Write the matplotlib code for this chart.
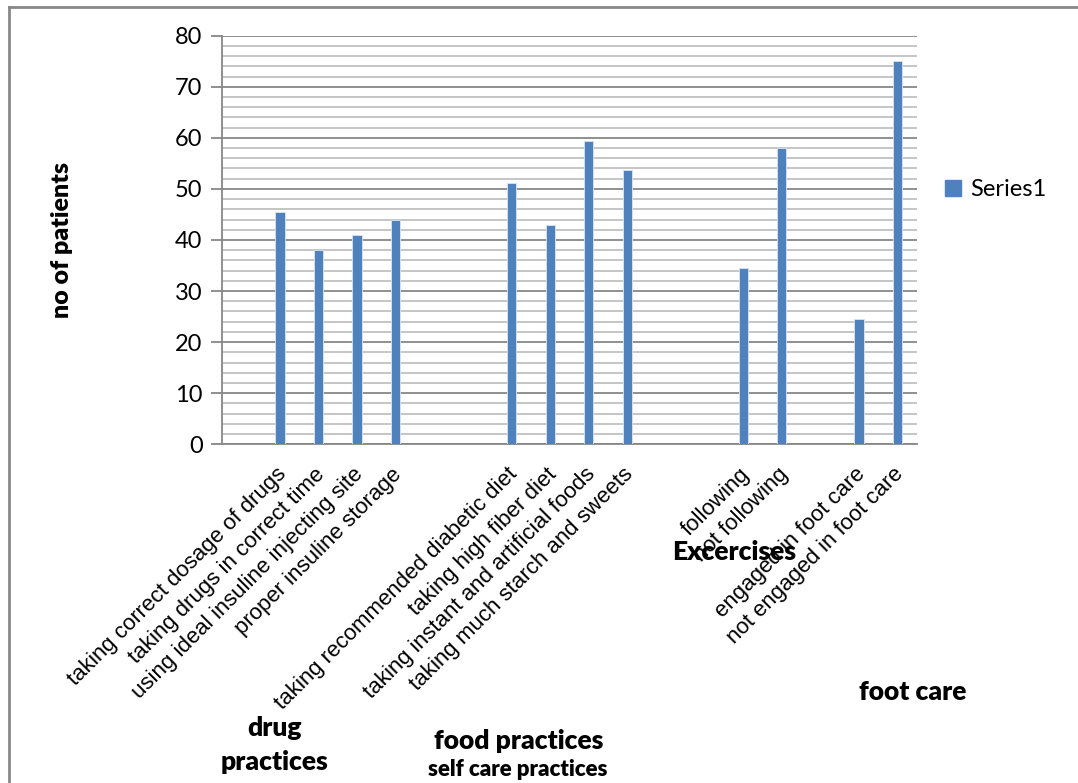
import matplotlib
matplotlib.use("Agg")
import matplotlib.pyplot as plt
import matplotlib.transforms as mtransforms
from matplotlib.lines import Line2D
from matplotlib.patches import Patch
import numpy as np

# Self-care practice items (blank slots separate the groups on the axis)
categories = [
    "",
    "taking correct dosage of drugs",
    "taking drugs in correct time",
    "using ideal insuline injecting site",
    "proper insuline storage",
    "",
    "",
    "taking recommended diabetic diet",
    "taking high fiber diet",
    "taking instant and artificial foods",
    "taking much starch and sweets",
    "",
    "",
    "following",
    "not following",
    "",
    "engaged in foot care",
    "not engaged in foot care",
]
patients = [
    None, 45.5, 38.0, 41.0, 44.0,
    None, None, 51.2, 43.0, 59.3, 53.8,
    None, None, 34.5, 58.1,
    None, 24.5, 75.1,
]
group_labels = ["drug\npractices", "food practices", "Excercises", "foot care"]
axis_title = "self care practices"
y_label = "no of patients"
series_name = "Series1"

BAR_COLOR = "#4F81BD"
LABEL_FONT = ["Liberation Sans", "DejaVu Sans"]
TITLE_FONT = ["Lato", "DejaVu Sans"]

fig = plt.figure(figsize=(10.78, 7.83), dpi=100)
ax = fig.add_axes([0.2059, 0.4326, 0.6447, 0.5218])

x = np.arange(len(categories))
bar_x = [i for i, v in zip(x, patients) if v is not None]
bar_h = [v for v in patients if v is not None]
ax.bar(bar_x, bar_h, width=0.24, color=BAR_COLOR, edgecolor="#dbe5f1",
       linewidth=0.6, zorder=3)

ax.set_xlim(-0.5, len(categories) - 0.5)
ax.set_ylim(0, 80)
ax.set_yticks(np.arange(0, 81, 10))
ax.set_yticks(np.arange(0, 81, 2), minor=True)
ax.grid(axis="y", which="minor", color="#b5b5b5", linewidth=1.1, zorder=0)
ax.grid(axis="y", which="major", color="#878787", linewidth=1.3, zorder=1)
ax.grid(axis="x", visible=False)

for side in ("top", "right"):
    ax.spines[side].set_visible(False)
for side in ("left", "bottom"):
    ax.spines[side].set_color("#878787")
    ax.spines[side].set_linewidth(1.3)

ax.tick_params(axis="y", which="major", length=8, width=1.3, color="#878787",
               labelsize=17, pad=6)
ax.tick_params(axis="y", which="minor", length=0)
for t in ax.get_yticklabels():
    t.set_fontfamily(TITLE_FONT)

# rotated category labels
ax.set_xticks(x)
ax.set_xticklabels([])
ax.tick_params(axis="x", length=0)
offset = mtransforms.ScaledTranslation(3 / 100, -27 / 100, fig.dpi_scale_trans)
for xi, lab in zip(x, categories):
    if lab:
        ax.text(xi, 0, lab, rotation=45, rotation_mode="anchor",
                ha="right", va="center", fontsize=16, family=LABEL_FONT,
                transform=ax.get_xaxis_transform() + offset)

# group labels under the rotated labels
group_pos = [(275, 745), (519, 741), (734, 552), (913, 692)]
for lab, (px, py) in zip(group_labels, group_pos):
    fig.text(px / 1078, 1 - py / 783, lab, ha="center", va="center",
             fontsize=19, fontweight="heavy", family=TITLE_FONT,
             linespacing=1.45)
fig.text(518 / 1078, 1 - 769 / 783, axis_title, ha="center", va="center",
         fontsize=16, fontweight="heavy", family=TITLE_FONT)

fig.text(62 / 1078, 1 - 240 / 783, y_label, rotation=90, ha="center",
         va="center", fontsize=18, fontweight="heavy", family=TITLE_FONT)

# legend
handle = Patch(facecolor=BAR_COLOR, edgecolor=BAR_COLOR)
fig.legend([handle], [series_name], loc="center left",
           bbox_to_anchor=(924 / 1078, 1 - 190 / 783), frameon=False,
           prop={"family": TITLE_FONT, "size": 17}, handlelength=0.65,
           handleheight=0.65, handletextpad=0.4)

# chart frame
fig.add_artist(Line2D([9 / 1078, 1.0], [1 - 7 / 783] * 2, color="#888888",
                      linewidth=2, transform=fig.transFigure))
fig.add_artist(Line2D([9 / 1078] * 2, [0.0, 1 - 7 / 783], color="#888888",
                      linewidth=2, transform=fig.transFigure))

fig.savefig("out.png", dpi=100, facecolor="white")
